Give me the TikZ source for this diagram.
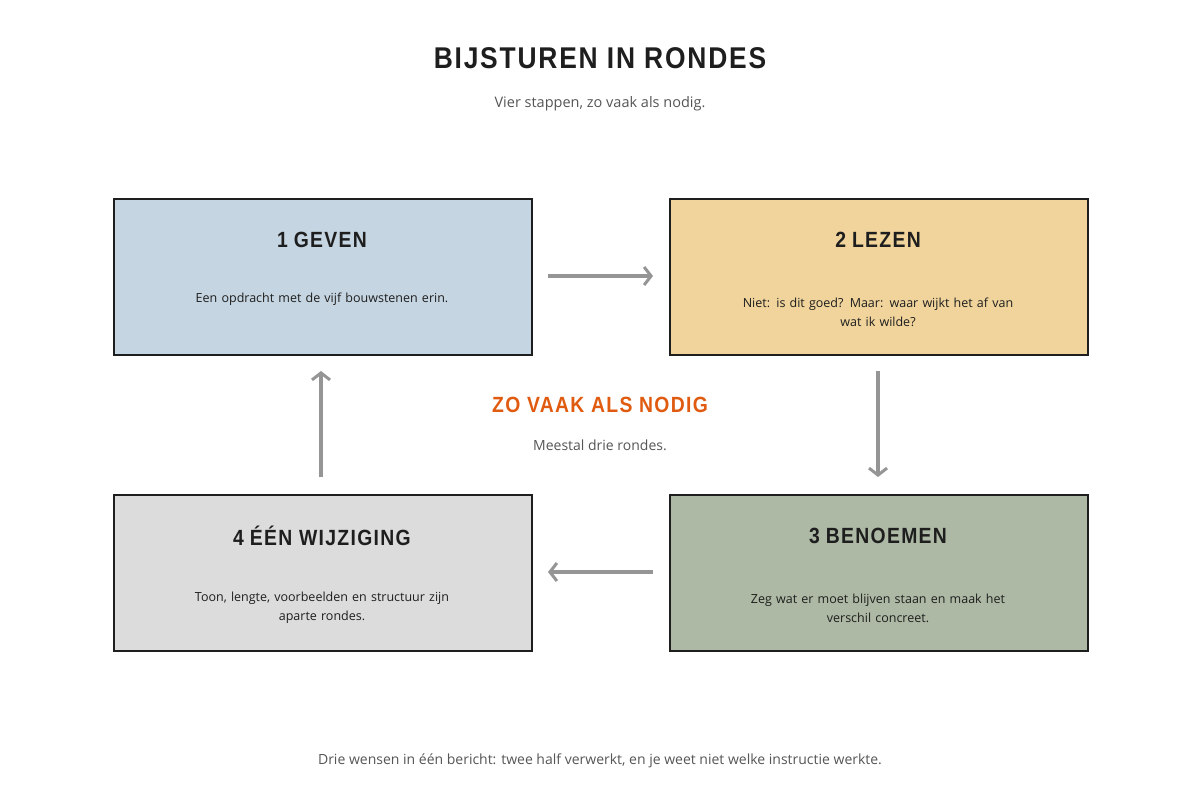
\documentclass[tikz,border=0pt]{standalone}
\usepackage{fontspec}
\setmainfont{Open Sans}
\newfontfamily\headf{Liberation Sans}[LetterSpace=6,FakeStretch=0.88]
\usetikzlibrary{arrows.meta}
\definecolor{ink}{HTML}{1E1E1E}
\definecolor{grayt}{HTML}{555555}
\definecolor{arr}{HTML}{959595}
\definecolor{cA}{HTML}{C5D5E1}
\definecolor{cB}{HTML}{F0D49B}
\definecolor{cC}{HTML}{ADB9A4}
\definecolor{cD}{HTML}{DCDCDC}
\definecolor{org}{HTML}{E05A10}
\begin{document}
\begin{tikzpicture}[x=1pt,y=-1pt,
  box/.style={draw=ink,line width=2.2pt,minimum width=418pt,minimum height=156pt,anchor=north west,inner sep=0pt},
  ttl/.style={font=\headf\bfseries\fontsize{22}{26}\selectfont,text=ink},
  bod/.style={font=\fontsize{12.5}{19}\selectfont,text=ink,align=center,text width=390pt},
  ar/.style={draw=arr,line width=4.5pt,-{Straight Barb[length=7pt,width=18pt,line width=3pt]}}]
\useasboundingbox (0,0) rectangle (1200,800);
\node[font=\headf\bfseries\fontsize{30}{34}\selectfont,text=ink] (t) at (600,58) {BIJSTUREN IN RONDES};
\node[font=\fontsize{14.5}{18}\selectfont,text=grayt] (s) at (600,104) {Vier stappen, zo vaak als nodig.};
\node[box,fill=cA] (b1) at (113,198) {};
\node[box,fill=cB] (b2) at (669,198) {};
\node[box,fill=cC] (b3) at (669,494) {};
\node[box,fill=cD] (b4) at (113,494) {};
\node[ttl] (t1) at (322,240) {1\hspace{6pt}GEVEN};
\node[bod] (d1) at (322,299) {Een opdracht met de vijf bouwstenen erin.};
\node[ttl] (t2) at (878,240) {2\hspace{6pt}LEZEN};
\node[bod] (d2) at (878,312) {Niet: is dit goed? Maar: waar wijkt het af van\\wat ik wilde?};
\node[ttl] (t3) at (878,536) {3\hspace{6pt}BENOEMEN};
\node[bod] (d3) at (878,608) {Zeg wat er moet blijven staan en maak het\\verschil concreet.};
\node[ttl] (t4) at (322,536) {4\hspace{6pt}ÉÉN WIJZIGING};
\node[bod] (d4) at (322,608) {Toon, lengte, voorbeelden en structuur zijn\\aparte rondes.};
\node[font=\headf\bfseries\fontsize{22}{26}\selectfont,text=org] (c) at (600,405) {ZO VAAK ALS NODIG};
\node[font=\fontsize{14}{18}\selectfont,text=grayt] (c2) at (600,445) {Meestal drie rondes.};
\node[font=\fontsize{14}{18}\selectfont,text=grayt] (f) at (600,761) {Drie wensen in één bericht: twee half verwerkt, en je weet niet welke instructie werkte.};
\coordinate (a1s) at (548,276); \coordinate (a1e) at (653,276);
\coordinate (a2s) at (878,371); \coordinate (a2e) at (878,477);
\coordinate (a3s) at (653,572); \coordinate (a3e) at (548,572);
\coordinate (a4s) at (321,477); \coordinate (a4e) at (321,371);
\draw[ar] (a1s) -- (a1e);
\draw[ar] (a2s) -- (a2e);
\draw[ar] (a3s) -- (a3e);
\draw[ar] (a4s) -- (a4e);
\end{tikzpicture}
\end{document}
